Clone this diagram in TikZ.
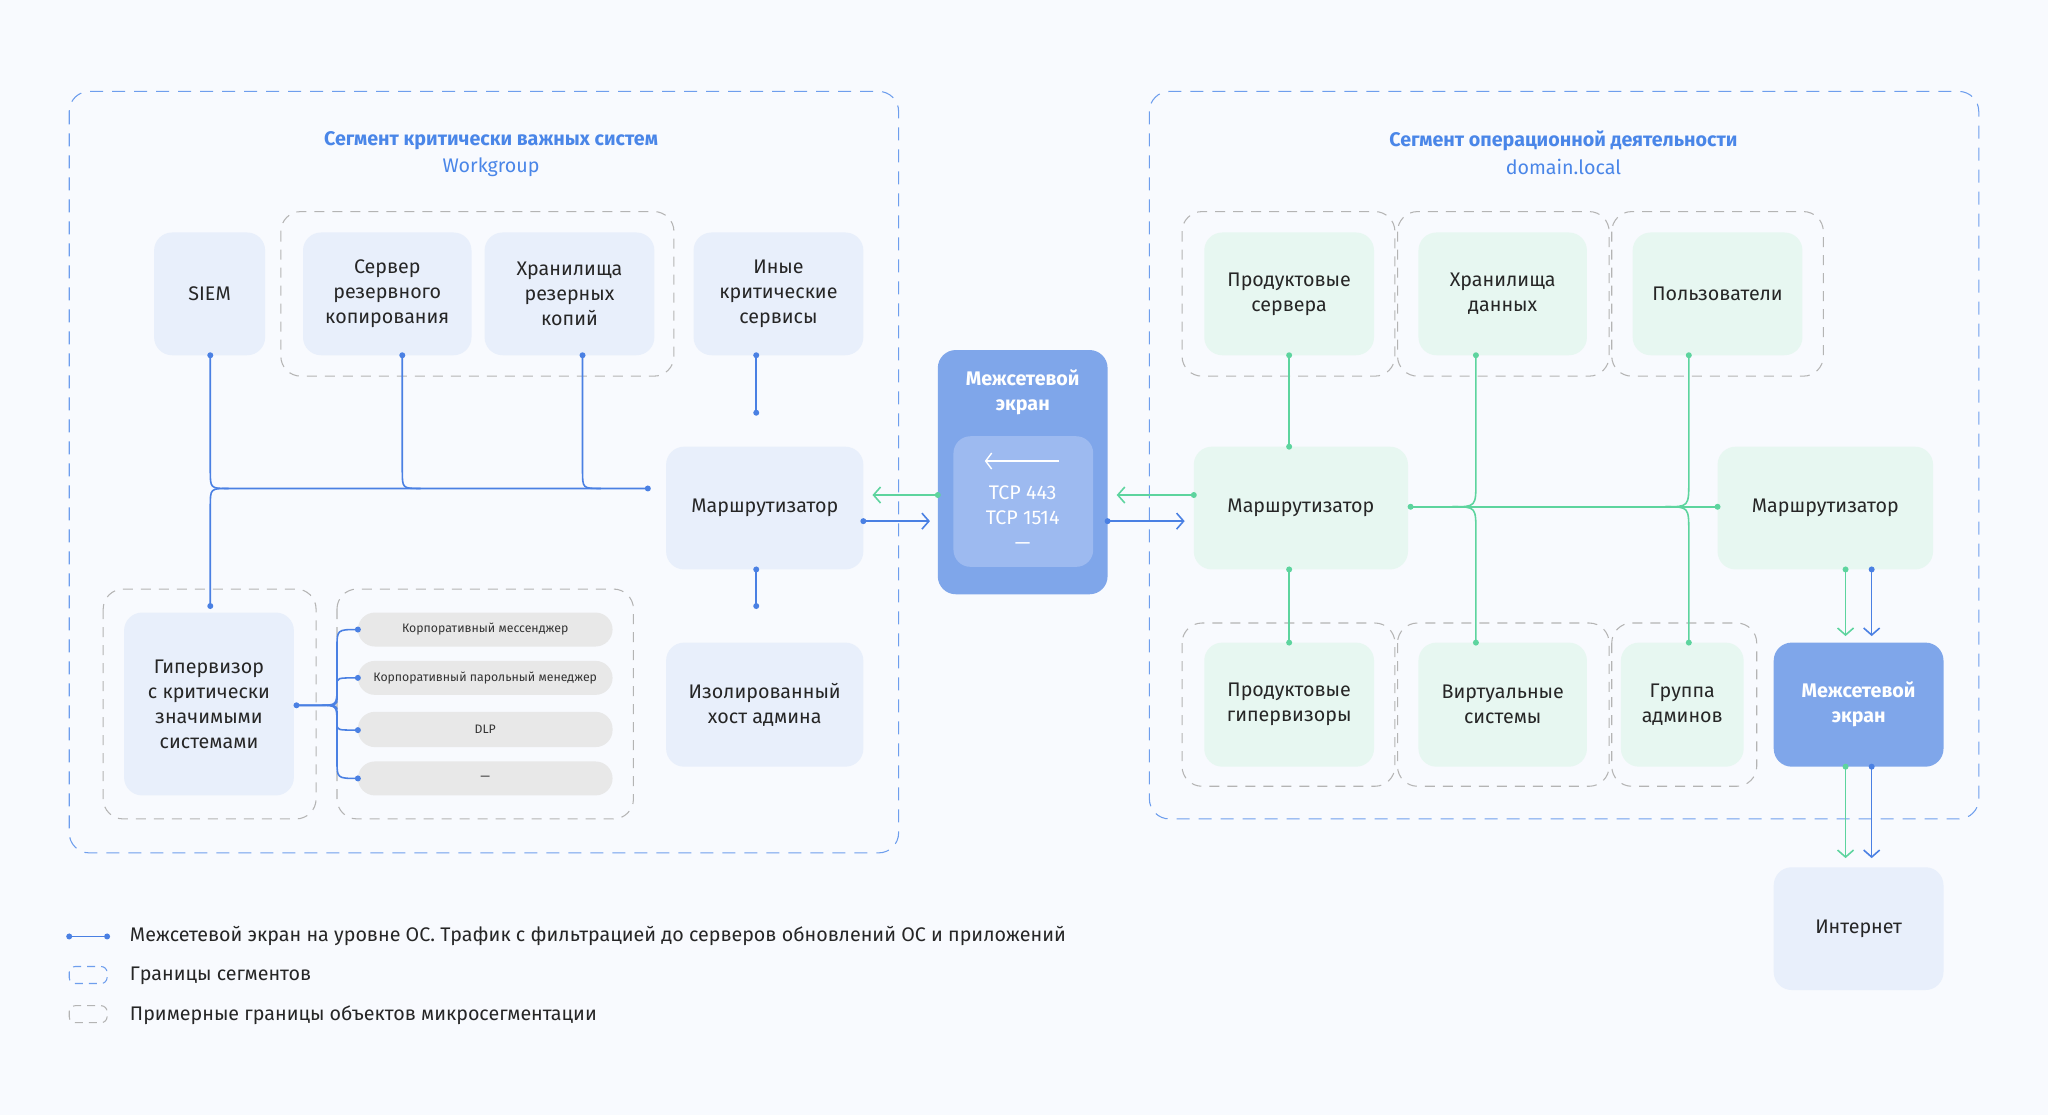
\documentclass[tikz,border=0pt]{standalone}
\usepackage{fontspec}
\setmainfont{Fira Sans}
\usetikzlibrary{fit,arrows.meta,calc}
\definecolor{bg}{HTML}{F8FAFE}
\definecolor{lb}{HTML}{E8EFFB}
\definecolor{lg}{HTML}{E7F7F1}
\definecolor{fw}{HTML}{7FA6EA}
\definecolor{fwin}{HTML}{9DBAF0}
\definecolor{bl}{HTML}{4A80E3}
\definecolor{gr}{HTML}{5DD49E}
\definecolor{tb}{HTML}{4A86E8}
\definecolor{pill}{HTML}{E8E8E8}
\definecolor{dg}{HTML}{B4B4B4}
\newcommand{\fs}{\fontsize{5.6}{7.1}\selectfont}
\newcommand{\fsp}{\fontsize{3.5}{4.5}\selectfont}
\begin{document}
\begin{tikzpicture}[x=0.013061cm,y=-0.013061cm,
  base/.style={inner sep=0pt,rounded corners=0.18cm},
  bbox/.style={base,fill=lb},
  gbox/.style={base,fill=lg},
  fbox/.style={base,fill=fw},
  pbox/.style={inner sep=0pt,rounded corners=0.17cm,fill=pill},
  txt/.style={align=center,font=\fs,text=black!85},
  ptxt/.style={font=\fsp,text=black!80},
  wtxt/.style={align=center,font=\fs\bfseries,text=white},
  seg/.style={draw=tb!80,dash pattern=on 1.3mm off 0.9mm,rounded corners=0.2cm,line width=0.3pt},
  grp/.style={draw=dg,dash pattern=on 1mm off 0.8mm,rounded corners=0.2cm,line width=0.3pt},
  bline/.style={draw=bl,line width=0.45pt},
  gline/.style={draw=gr,line width=0.45pt},
  arr/.style={-{Straight Barb[length=0.7mm,width=1.6mm]}},
  bdot/.style={fill=bl,circle,inner sep=0pt,minimum size=0.06cm},
  gdot/.style={fill=gr,circle,inner sep=0pt,minimum size=0.06cm},
  title/.style={font=\fs\bfseries,text=tb},
  sub/.style={font=\fs,text=tb},
  leg/.style={font=\fs,text=black!85,anchor=west}]
\useasboundingbox (0,0) rectangle (1568,854);
\fill[bg] (0,0) rectangle (1568,854);
% segments
\draw[seg] (53,70) rectangle (688,653);
\draw[seg] (880,70) rectangle (1515,627);
\node[title] (t1) at (376,108) {Сегмент критически важных систем};
\node[sub] (s1) at (376,128) {Workgroup};
\node[title] (t2) at (1197,108) {Сегмент операционной деятельности};
\node[sub] (s2) at (1197,128) {domain.local};
% groups
\draw[grp] (215,162) rectangle (516,288);
\draw[grp] (79,451) rectangle (242,627);
\draw[grp] (258,451) rectangle (485,627);
\draw[grp] (905,162) rectangle (1068,288);
\draw[grp] (1070,162) rectangle (1232,288);
\draw[grp] (1234,162) rectangle (1396,288);
\draw[grp] (905,477) rectangle (1068,602);
\draw[grp] (1070,477) rectangle (1232,602);
\draw[grp] (1234,477) rectangle (1345,602);
% left nodes
\node[bbox,fit={(118,178) (203,272)}] (siem) {};
\node[txt] at (siem.center) {SIEM};
\node[bbox,fit={(232,178) (361,272)}] (srv) {};
\node[txt] at (srv.center) {Сервер\\резервного\\копирования};
\node[bbox,fit={(371,178) (501,272)}] (stor) {};
\node[txt] at (stor.center) {Хранилища\\резерных\\копий};
\node[bbox,fit={(531,178) (661,272)}] (oth) {};
\node[txt] at (oth.center) {Иные\\критические\\сервисы};
\node[bbox,fit={(510,342) (661,436)}] (r0) {};
\node[txt] at (r0.center) {Маршрутизатор};
\node[bbox,fit={(510,492) (661,587)}] (iso) {};
\node[txt] at (iso.center) {Изолированный\\хост админа};
\node[bbox,fit={(95,469) (225,609)}] (hyp) {};
\node[txt] at (hyp.center) {Гипервизор\\с критически\\значимыми\\системами};
\node[pbox,fit={(274,469) (469,495)}] (p1) {};
\node[ptxt] at (p1.center) {Корпоративный мессенджер};
\node[pbox,fit={(274,506) (469,532)}] (p2) {};
\node[ptxt] at (p2.center) {Корпоративный парольный менеджер};
\node[pbox,fit={(274,545) (469,572)}] (p3) {};
\node[ptxt] at (p3.center) {DLP};
\node[pbox,fit={(274,583) (469,609)}] (p4) {};
\node[ptxt] at (p4.center) {—};
% central firewall
\node[fbox,fit={(718,268) (848,455)}] (fw1) {};
\node[wtxt] at (783,300) {Межсетевой\\экран};
\node[inner sep=0pt,rounded corners=0.17cm,fill=fwin,fit={(730,334) (837,434)}] (fwi) {};
\draw[white,line width=0.4pt,-{Straight Barb[length=0.6mm,width=1.6mm]}] (811,353) -- (754,353);
\node[txt,text=white] at (783,396) {TCP 443\\TCP 1514\\—};
% right nodes
\node[gbox,fit={(922,178) (1052,272)}] (ps) {};
\node[txt] at (ps.center) {Продуктовые\\сервера};
\node[gbox,fit={(1086,178) (1215,272)}] (ds) {};
\node[txt] at (ds.center) {Хранилища\\данных};
\node[gbox,fit={(1250,178) (1380,272)}] (us) {};
\node[txt] at (us.center) {Пользователи};
\node[gbox,fit={(914,342) (1078,436)}] (r1) {};
\node[txt] at (r1.center) {Маршрутизатор};
\node[gbox,fit={(1315,342) (1480,436)}] (r2) {};
\node[txt] at (r2.center) {Маршрутизатор};
\node[gbox,fit={(922,492) (1052,587)}] (ph) {};
\node[txt] at (ph.center) {Продуктовые\\гипервизоры};
\node[gbox,fit={(1086,492) (1215,587)}] (vs) {};
\node[txt] at (vs.center) {Виртуальные\\системы};
\node[gbox,fit={(1241,492) (1335,587)}] (ga) {};
\node[txt] at (ga.center) {Группа\\админов};
\node[fbox,fit={(1358,492) (1488,587)}] (fw2) {};
\node[wtxt] at (fw2.center) {Межсетевой\\экран};
\node[bbox,fit={(1358,664) (1488,758)}] (inet) {};
\node[txt] at (inet.center) {Интернет};
% left blue connectors
\coordinate (jl) at (496,374);
\draw[bline] (161,272) -- (161,360) .. controls (161,374) .. (175,374) -- (jl);
\draw[bline] (161,464) -- (161,388) .. controls (161,374) .. (175,374);
\draw[bline] (308,272) -- (308,360) .. controls (308,374) .. (322,374);
\draw[bline] (446,272) -- (446,360) .. controls (446,374) .. (460,374);
\node[bdot] at (161,272) {}; \node[bdot] at (308,272) {}; \node[bdot] at (446,272) {};
\node[bdot] at (jl) {}; \node[bdot] at (161,464) {};
\draw[bline] (579,272) -- (579,316); \node[bdot] at (579,272) {}; \node[bdot] at (579,316) {};
\draw[bline] (579,436) -- (579,464); \node[bdot] at (579,436) {}; \node[bdot] at (579,464) {};
% hypervisor fan
\coordinate (hj) at (227,540);
\node[bdot] at (hj) {};
\foreach \y/\p in {482/p1,519/p2,559/p3,596/p4}{
  \draw[bline] (hj) -- (244,540) .. controls (258,540) .. (258,{540+(\y-540)*0.25}) -- (258,{\y-(\y-540)*0.25}) .. controls (258,\y) .. (274,\y);
  \node[bdot] at (274,\y) {};
}
% central arrows
\draw[bline,arr] (661,399) -- (712,399); \node[bdot] at (661,399) {};
\draw[gline,arr] (718,379) -- (668,379); \node[gdot] at (718,379) {};
\draw[bline,arr] (848,399) -- (907,399); \node[bdot] at (848,399) {};
\draw[gline,arr] (914,379) -- (855,379); \node[gdot] at (914,379) {};
% right green connectors
\draw[gline] (987,272) -- (987,342); \node[gdot] at (987,272) {}; \node[gdot] at (987,342) {};
\draw[gline] (987,436) -- (987,492); \node[gdot] at (987,436) {}; \node[gdot] at (987,492) {};
\draw[gline] (1080,388) -- (1315,388); \node[gdot] at (1080,388) {}; \node[gdot] at (1315,388) {};
\foreach \x in {1130,1293}{
  \draw[gline] (\x,272) -- (\x,368) .. controls (\x,388) .. ({\x-18},388);
  \draw[gline] (\x,492) -- (\x,408) .. controls (\x,388) .. ({\x-18},388);
  \node[gdot] at (\x,272) {}; \node[gdot] at (\x,492) {};
}
% firewall2 arrows
\draw[gline,arr] (1413,436) -- (1413,487); \node[gdot] at (1413,436) {};
\draw[bline,arr] (1433,436) -- (1433,487); \node[bdot] at (1433,436) {};
\draw[gline,arr] (1413,587) -- (1413,657); \node[gdot] at (1413,587) {};
\draw[bline,arr] (1433,587) -- (1433,657); \node[bdot] at (1433,587) {};
% legend
\coordinate (la) at (53,717); \coordinate (lb2) at (82,717);
\draw[bline] (la) -- (lb2); \node[bdot] at (la) {}; \node[bdot] at (lb2) {};
\node[leg] at (90,717) {Межсетевой экран на уровне ОС. Трафик с фильтрацией до серверов обновлений ОС и приложений};
\draw[seg,rounded corners=0.06cm,dash pattern=on 0.8mm off 0.6mm] (53,740) rectangle (82,753);
\node[leg] at (90,747) {Границы сегментов};
\draw[grp,rounded corners=0.06cm,dash pattern=on 0.8mm off 0.6mm] (53,770) rectangle (82,783);
\node[leg] at (90,777) {Примерные границы объектов микросегментации};
\end{tikzpicture}
\end{document}
